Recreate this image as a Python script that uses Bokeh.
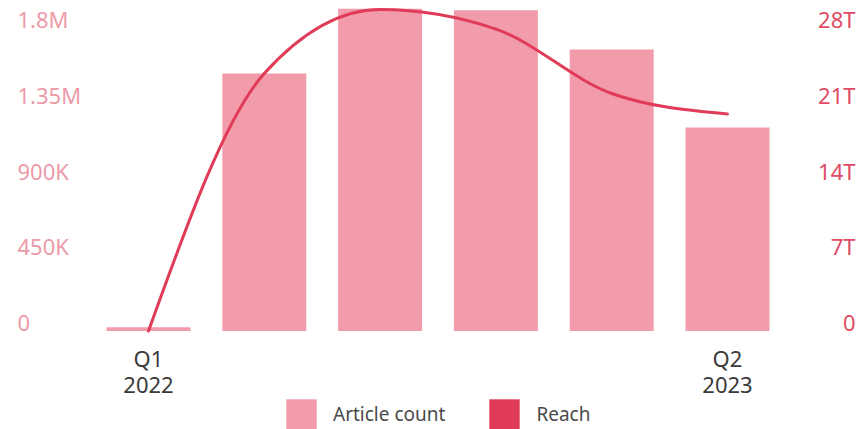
import numpy as np
from bokeh.plotting import figure
from bokeh.core.properties import value
from bokeh.models import (Range1d, Legend, LegendItem, ColumnDataSource, LabelSet)
from bokeh.embed import file_html
from bokeh.resources import INLINE

# Quarterly article volume and reach
quarters = ["Q1 2022", "Q2 2022", "Q3 2022", "Q4 2022", "Q1 2023", "Q2 2023"]
article_count = [23_000, 1_530_000, 1_915_000, 1_905_000, 1_672_000, 1_209_000]
reach = [0.0, 23.8e12, 29.7e12, 27.9e12, 21.95e12, 20.05e12]

count_ticks = [0, 450_000, 900_000, 1_350_000, 1_800_000]
count_tick_labels = ["0", "450K", "900K", "1.35M", "1.8M"]
reach_ticks = [0, 7e12, 14e12, 21e12, 28e12]
reach_tick_labels = ["0", "7T", "14T", "21T", "28T"]
x_tick_index = [0, 5]
x_tick_quarter = ["Q1", "Q2"]
x_tick_year = ["2022", "2023"]

BAR_COLOR = "#F29BAA"
LINE_COLOR = "#E03B58"
FONT = "Noto Sans"
W, H = 862, 429

xs = list(range(len(quarters)))

# The plotting frame fills the whole canvas; scales are set so that one
# quarter is 115.8 px wide (first quarter centred at 148 px) and one tick
# step is 75.75 px tall with the zero line 98.5 px above the bottom edge.
PX_PER_Q = 115.8
PX_PER_STEP = 75.75
X0_PX = 148
BASE_PX = 98.5
x_start = -X0_PX / PX_PER_Q
x_end = x_start + W / PX_PER_Q
count_start = -BASE_PX / PX_PER_STEP * 450_000
count_end = (H - BASE_PX) / PX_PER_STEP * 450_000
reach_start = -BASE_PX / PX_PER_STEP * 7e12
reach_end = (H - BASE_PX) / PX_PER_STEP * 7e12


def monotone_bezier(x, y):
    """Control points of a monotone cubic (d3 monotoneX style) through x, y."""
    x = np.asarray(x, float)
    y = np.asarray(y, float)
    h = np.diff(x)
    s = np.diff(y) / h
    n = len(x)
    m = np.zeros(n)
    for i in range(1, n - 1):
        p = (s[i - 1] * h[i] + s[i] * h[i - 1]) / (h[i - 1] + h[i])
        m[i] = (np.sign(s[i - 1]) + np.sign(s[i])) * min(abs(s[i - 1]), abs(s[i]), 0.5 * abs(p))
    m[0] = (3 * s[0] - m[1]) / 2
    m[-1] = (3 * s[-1] - m[-2]) / 2
    return dict(
        x0=x[:-1], y0=y[:-1], x1=x[1:], y1=y[1:],
        cx0=x[:-1] + h / 3, cy0=y[:-1] + m[:-1] * h / 3,
        cx1=x[1:] - h / 3, cy1=y[1:] - m[1:] * h / 3,
    )


p = figure(
    width=W, height=H,
    x_range=Range1d(x_start, x_end), y_range=Range1d(count_start, count_end),
    output_backend="svg", toolbar_location=None,
    min_border=0,
)
p.extra_y_ranges = {"reach": Range1d(reach_start, reach_end)}
p.background_fill_color = "white"
p.border_fill_color = "white"
p.outline_line_color = None
p.grid.visible = False
p.xaxis.visible = False
p.yaxis.visible = False

bars = p.vbar(x=xs, top=article_count, width=0.725,
              fill_color=BAR_COLOR, line_color=None)

curve = ColumnDataSource(monotone_bezier(xs, reach))
p.bezier(x0="x0", y0="y0", x1="x1", y1="y1", cx0="cx0", cy0="cy0",
         cx1="cx1", cy1="cy1", source=curve, y_range_name="reach",
         line_color=LINE_COLOR, line_width=3, line_cap="round")

# hidden bars of the reach series, used only for the square legend swatch
reach_key = p.vbar(x=xs, top=reach, width=0.725, fill_color=LINE_COLOR,
                   line_color=None, y_range_name="reach", visible=False)

# value-axis labels: left-aligned at the left edge, right-aligned at the right
p.add_layout(LabelSet(
    source=ColumnDataSource(dict(y=count_ticks, text=count_tick_labels)),
    x=17, y="y", text="text", x_units="screen",
    text_align="left", text_baseline="alphabetic",
    text_font=value(FONT), text_font_size="22px", text_color="#EC9AA8",
))
p.add_layout(LabelSet(
    source=ColumnDataSource(dict(y=reach_ticks, text=reach_tick_labels)),
    x=855, y="y", text="text", x_units="screen", y_range_name="reach",
    text_align="right", text_baseline="alphabetic",
    text_font=value(FONT), text_font_size="22px", text_color="#E04A63",
))

# category labels under the first and last quarter (two lines each)
x_lab_src = ColumnDataSource(dict(x=x_tick_index, q=x_tick_quarter, yr=x_tick_year))
for field, y_px in (("q", H - 366), ("yr", H - 392)):
    p.add_layout(LabelSet(
        source=x_lab_src, x="x", y=y_px, y_units="screen", text=field,
        text_align="center", text_baseline="alphabetic",
        text_font=value(FONT), text_font_size="22px", text_color="#3a3a3a",
    ))

# legend swatches are drawn inset by 10% of the glyph box, so a 37.5 px box
# gives 30 px squares
legend = Legend(
    items=[LegendItem(label="Article count", renderers=[bars]),
           LegendItem(label="Reach", renderers=[reach_key])],
    orientation="horizontal", location=(282, -4),
    glyph_width=38, glyph_height=38, label_standoff=13, spacing=40,
    padding=0, margin=0, border_line_color=None, background_fill_alpha=0,
    label_text_font=FONT, label_text_font_size="19px", label_text_color="#4a4a4a",
)
p.add_layout(legend)

open("out.html", "w").write(file_html(p, INLINE))
